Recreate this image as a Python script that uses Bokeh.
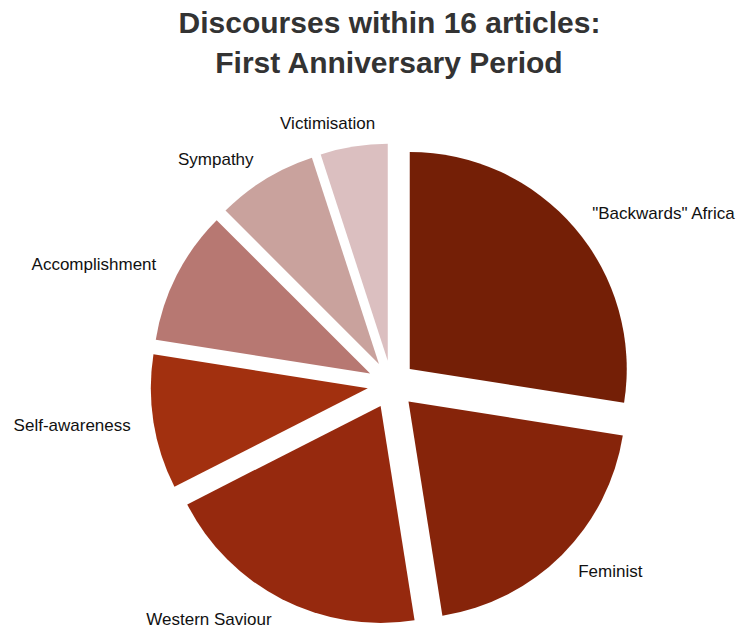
import math
from bokeh.plotting import figure
from bokeh.models import Range1d, Label, ColumnDataSource
from bokeh.core.properties import value
from bokeh.embed import file_html
from bokeh.resources import INLINE

# Data
categories = ['"Backwards" Africa', "Feminist", "Western Saviour", "Self-awareness",
              "Accomplishment", "Sympathy", "Victimisation"]
counts = [11, 8, 8, 4, 4, 3, 2]
colors = ["#741f06", "#86240a", "#96290e", "#a2300f", "#b77872", "#c9a29d", "#dbbfc0"]
title_lines = ["Discourses within 16 articles:", "First Anniversary Period"]

W, H = 741, 630
cx, cy = 391, H - 384
R = 217
explode = 24
label_r = 264

total = sum(counts)
xs, ys, starts, ends = [], [], [], []
lx, ly, aligns, xoffs = [], [], [], []
cum = 0.0
for i, c in enumerate(counts):
    a0 = math.pi / 2 - 2 * math.pi * (cum + c) / total
    a1 = math.pi / 2 - 2 * math.pi * cum / total
    mid = (a0 + a1) / 2
    xs.append(cx + explode * math.cos(mid))
    ys.append(cy + explode * math.sin(mid))
    starts.append(a0)
    ends.append(a1)
    lx.append(cx + label_r * math.cos(mid))
    ly.append(cy + label_r * math.sin(mid))
    aligns.append("left" if math.cos(mid) > 0 else "right")
    xoffs.append(25 if categories[i] == "Victimisation" else 0)
    cum += c

src = ColumnDataSource(dict(x=xs, y=ys, start=starts, end=ends, color=colors))
lsrc = ColumnDataSource(dict(x=lx, y=ly, text=categories, align=aligns, xoff=xoffs))

p = figure(width=W, height=H, output_backend="svg", toolbar_location=None,
           x_range=Range1d(0, W), y_range=Range1d(0, H), min_border=0)
p.axis.visible = False
p.grid.visible = False
p.outline_line_color = None
p.background_fill_color = "white"
p.border_fill_color = "white"

p.wedge(x="x", y="y", radius=R, radius_units="screen", start_angle="start",
        end_angle="end", direction="anticlock", fill_color="color",
        line_color=None, source=src)

p.text(x="x", y="y", text="text", source=lsrc, text_align="align",
       x_offset="xoff", text_baseline="middle", text_font=value("Liberation Sans"),
       text_font_size="17px", text_color="#111111")

for j, t in enumerate(title_lines):
    p.add_layout(Label(x=389, y=H - 22 - 40 * j, x_units="screen", y_units="screen",
                       text=t, text_align="center", text_baseline="middle",
                       text_font="Liberation Sans", text_font_style="bold",
                       text_font_size="30px", text_color="#333333"))

open("out.html", "w").write(file_html(p, INLINE))
